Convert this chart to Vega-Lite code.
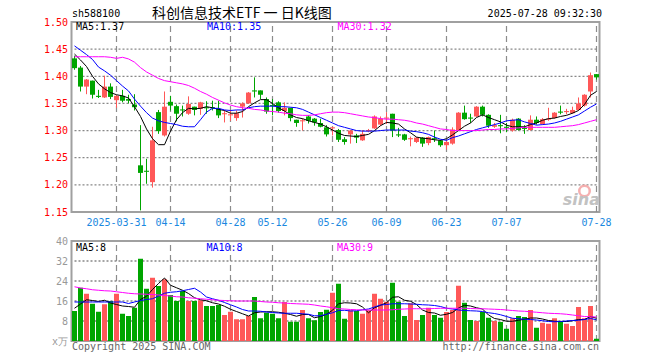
{
"$schema": "https://vega.github.io/schema/vega-lite/v6.json",
"background": "white",
"padding": {"left": 41.5, "top": 6, "right": 5, "bottom": 4},
"bounds": "flush",
"spacing": 29,
"config": {
  "view": {"stroke": "#a0a0a0", "strokeWidth": 2},
  "axis": {"domain": false, "ticks": false, "grid": false, "labelFont": "DejaVu Sans Mono", "labelFontSize": 10, "labelOverlap": false},
  "text": {"font": "DejaVu Sans Mono", "fontSize": 10}
},
"datasets": {
  "dates": [{"g":"2025-03-31"},{"g":"2025-04-14"},{"g":"2025-04-28"},{"g":"2025-05-12"},{"g":"2025-05-26"},{"g":"2025-06-09"},{"g":"2025-06-23"},{"g":"2025-07-07"},{"g":"2025-07-28"}],
  "pgrid": [{"g":1.2},{"g":1.25},{"g":1.3},{"g":1.35},{"g":1.4},{"g":1.45}],
  "vgrid": [{"g":8},{"g":16},{"g":24},{"g":32}]
},
"data": {"values": [
{"d":"2025-03-20","o":1.433,"h":1.438,"l":1.412,"c":1.415,"v":12.0,"m5":1.441,"m10":1.456,"m30":1.436,"v5":13.1,"v10":15.6,"v30":21.7},
{"d":"2025-03-21","o":1.416,"h":1.419,"l":1.372,"c":1.381,"v":21.3,"m5":1.430,"m10":1.448,"m30":1.436,"v5":14.8,"v10":15.6,"v30":21.2},
{"d":"2025-03-24","o":1.381,"h":1.395,"l":1.367,"c":1.394,"v":18.9,"m5":1.418,"m10":1.440,"m30":1.436,"v5":16.5,"v10":15.6,"v30":20.9},
{"d":"2025-03-25","o":1.392,"h":1.392,"l":1.359,"c":1.366,"v":14.9,"m5":1.400,"m10":1.431,"m30":1.436,"v5":16.2,"v10":15.6,"v30":20.5},
{"d":"2025-03-26","o":1.364,"h":1.375,"l":1.360,"c":1.362,"v":11.7,"m5":1.386,"m10":1.417,"m30":1.436,"v5":15.8,"v10":15.6,"v30":20.3},
{"d":"2025-03-27","o":1.361,"h":1.401,"l":1.360,"c":1.381,"v":14.7,"m5":1.377,"m10":1.410,"m30":1.436,"v5":16.3,"v10":15.6,"v30":20.1},
{"d":"2025-03-28","o":1.381,"h":1.387,"l":1.358,"c":1.362,"v":16.0,"m5":1.370,"m10":1.402,"m30":1.435,"v5":15.2,"v10":15.6,"v30":20.0},
{"d":"2025-03-31","o":1.356,"h":1.366,"l":1.342,"c":1.364,"v":18.9,"m5":1.366,"m10":1.392,"m30":1.433,"v5":14.6,"v10":15.6,"v30":19.7},
{"d":"2025-04-01","o":1.364,"h":1.375,"l":1.352,"c":1.355,"v":10.9,"m5":1.364,"m10":1.382,"m30":1.435,"v5":14.0,"v10":15.6,"v30":19.4},
{"d":"2025-04-02","o":1.358,"h":1.366,"l":1.350,"c":1.355,"v":10.0,"m5":1.360,"m10":1.373,"m30":1.432,"v5":13.8,"v10":15.0,"v30":19.1},
{"d":"2025-04-03","o":1.348,"h":1.367,"l":1.337,"c":1.343,"v":13.3,"m5":1.344,"m10":1.358,"m30":1.426,"v5":13.5,"v10":15.6,"v30":18.9},
{"d":"2025-04-07","o":1.236,"h":1.310,"l":1.153,"c":1.222,"v":32.9,"m5":1.326,"m10":1.345,"m30":1.416,"v5":16.6,"v10":16.2,"v30":18.8},
{"d":"2025-04-08","o":1.226,"h":1.248,"l":1.202,"c":1.224,"v":20.9,"m5":1.303,"m10":1.333,"m30":1.408,"v5":17.9,"v10":16.6,"v30":18.7},
{"d":"2025-04-09","o":1.205,"h":1.307,"l":1.195,"c":1.282,"v":25.3,"m5":1.285,"m10":1.323,"m30":1.402,"v5":20.6,"v10":16.9,"v30":18.6},
{"d":"2025-04-10","o":1.334,"h":1.338,"l":1.294,"c":1.299,"v":22.0,"m5":1.274,"m10":1.318,"m30":1.396,"v5":23.0,"v10":18.0,"v30":18.4},
{"d":"2025-04-11","o":1.291,"h":1.372,"l":1.289,"c":1.344,"v":24.7,"m5":1.274,"m10":1.315,"m30":1.392,"v5":25.2,"v10":19.1,"v30":18.2},
{"d":"2025-04-14","o":1.353,"h":1.364,"l":1.337,"c":1.346,"v":18.4,"m5":1.299,"m10":1.313,"m30":1.390,"v5":22.3,"v10":19.5,"v30":18.0},
{"d":"2025-04-15","o":1.345,"h":1.348,"l":1.317,"c":1.331,"v":16.0,"m5":1.320,"m10":1.311,"m30":1.388,"v5":21.3,"v10":19.7,"v30":17.7},
{"d":"2025-04-16","o":1.339,"h":1.346,"l":1.326,"c":1.337,"v":20.0,"m5":1.333,"m10":1.308,"m30":1.386,"v5":20.3,"v10":20.1,"v30":17.6},
{"d":"2025-04-17","o":1.331,"h":1.363,"l":1.329,"c":1.349,"v":16.0,"m5":1.341,"m10":1.307,"m30":1.383,"v5":19.0,"v10":20.6,"v30":17.3},
{"d":"2025-04-18","o":1.344,"h":1.344,"l":1.328,"c":1.338,"v":16.0,"m5":1.340,"m10":1.307,"m30":1.378,"v5":17.3,"v10":21.1,"v30":17.1},
{"d":"2025-04-21","o":1.340,"h":1.353,"l":1.329,"c":1.352,"v":16.3,"m5":1.341,"m10":1.320,"m30":1.372,"v5":16.5,"v10":19.6,"v30":16.9},
{"d":"2025-04-22","o":1.343,"h":1.354,"l":1.331,"c":1.341,"v":14.0,"m5":1.344,"m10":1.334,"m30":1.367,"v5":16.1,"v10":17.6,"v30":16.7},
{"d":"2025-04-23","o":1.343,"h":1.355,"l":1.337,"c":1.341,"v":14.0,"m5":1.342,"m10":1.341,"m30":1.361,"v5":15.3,"v10":16.9,"v30":16.5},
{"d":"2025-04-24","o":1.340,"h":1.355,"l":1.323,"c":1.328,"v":14.4,"m5":1.339,"m10":1.341,"m30":1.356,"v5":14.8,"v10":16.3,"v30":16.3},
{"d":"2025-04-25","o":1.330,"h":1.338,"l":1.315,"c":1.332,"v":10.4,"m5":1.337,"m10":1.338,"m30":1.351,"v5":13.9,"v10":15.4,"v30":16.2},
{"d":"2025-04-28","o":1.328,"h":1.338,"l":1.318,"c":1.330,"v":11.7,"m5":1.332,"m10":1.337,"m30":1.347,"v5":12.7,"v10":14.5,"v30":16.1},
{"d":"2025-04-29","o":1.323,"h":1.337,"l":1.318,"c":1.332,"v":8.7,"m5":1.332,"m10":1.338,"m30":1.344,"v5":11.8,"v10":13.6,"v30":16.0},
{"d":"2025-04-30","o":1.344,"h":1.352,"l":1.324,"c":1.350,"v":8.7,"m5":1.335,"m10":1.338,"m30":1.342,"v5":10.9,"v10":12.6,"v30":16.0},
{"d":"2025-05-06","o":1.350,"h":1.371,"l":1.349,"c":1.370,"v":10.0,"m5":1.344,"m10":1.342,"m30":1.341,"v5":10.0,"v10":12.0,"v30":16.0},
{"d":"2025-05-07","o":1.374,"h":1.398,"l":1.361,"c":1.372,"v":17.6,"m5":1.351,"m10":1.344,"m30":1.339,"v5":11.3,"v10":12.0,"v30":16.0},
{"d":"2025-05-08","o":1.374,"h":1.374,"l":1.358,"c":1.366,"v":9.1,"m5":1.357,"m10":1.345,"m30":1.338,"v5":11.6,"v10":11.9,"v30":15.8},
{"d":"2025-05-09","o":1.358,"h":1.361,"l":1.331,"c":1.335,"v":11.3,"m5":1.357,"m10":1.345,"m30":1.336,"v5":11.7,"v10":11.6,"v30":15.6},
{"d":"2025-05-12","o":1.347,"h":1.358,"l":1.328,"c":1.345,"v":10.9,"m5":1.350,"m10":1.345,"m30":1.335,"v5":11.7,"v10":11.4,"v30":15.5},
{"d":"2025-05-13","o":1.352,"h":1.354,"l":1.333,"c":1.336,"v":9.1,"m5":1.342,"m10":1.344,"m30":1.334,"v5":11.5,"v10":11.2,"v30":15.3},
{"d":"2025-05-14","o":1.336,"h":1.352,"l":1.328,"c":1.342,"v":15.6,"m5":1.336,"m10":1.344,"m30":1.332,"v5":11.1,"v10":11.1,"v30":15.2},
{"d":"2025-05-15","o":1.342,"h":1.342,"l":1.317,"c":1.323,"v":7.7,"m5":1.329,"m10":1.343,"m30":1.331,"v5":10.6,"v10":11.1,"v30":15.0},
{"d":"2025-05-16","o":1.320,"h":1.320,"l":1.307,"c":1.314,"v":7.7,"m5":1.324,"m10":1.342,"m30":1.329,"v5":9.9,"v10":11.1,"v30":14.9},
{"d":"2025-05-19","o":1.317,"h":1.322,"l":1.300,"c":1.319,"v":12.4,"m5":1.322,"m10":1.339,"m30":1.328,"v5":10.6,"v10":10.9,"v30":14.8},
{"d":"2025-05-20","o":1.326,"h":1.328,"l":1.313,"c":1.318,"v":9.1,"m5":1.318,"m10":1.334,"m30":1.328,"v5":10.6,"v10":10.7,"v30":14.7},
{"d":"2025-05-21","o":1.322,"h":1.323,"l":1.309,"c":1.315,"v":8.3,"m5":1.315,"m10":1.329,"m30":1.329,"v5":9.3,"v10":10.1,"v30":14.4},
{"d":"2025-05-22","o":1.314,"h":1.322,"l":1.306,"c":1.307,"v":11.6,"m5":1.312,"m10":1.324,"m30":1.331,"v5":9.8,"v10":10.1,"v30":14.0},
{"d":"2025-05-23","o":1.306,"h":1.310,"l":1.289,"c":1.293,"v":12.5,"m5":1.307,"m10":1.319,"m30":1.333,"v5":10.7,"v10":10.7,"v30":13.7},
{"d":"2025-05-26","o":1.304,"h":1.307,"l":1.291,"c":1.306,"v":19.3,"m5":1.301,"m10":1.314,"m30":1.334,"v5":12.3,"v10":11.3,"v30":13.3},
{"d":"2025-05-27","o":1.301,"h":1.303,"l":1.279,"c":1.283,"v":22.9,"m5":1.295,"m10":1.309,"m30":1.334,"v5":14.9,"v10":12.2,"v30":12.9},
{"d":"2025-05-28","o":1.284,"h":1.288,"l":1.274,"c":1.279,"v":8.9,"m5":1.291,"m10":1.306,"m30":1.333,"v5":15.3,"v10":12.3,"v30":12.8},
{"d":"2025-05-29","o":1.293,"h":1.301,"l":1.276,"c":1.300,"v":12.3,"m5":1.290,"m10":1.303,"m30":1.331,"v5":15.2,"v10":12.0,"v30":12.6},
{"d":"2025-05-30","o":1.291,"h":1.294,"l":1.277,"c":1.287,"v":12.0,"m5":1.289,"m10":1.300,"m30":1.329,"v5":14.9,"v10":12.1,"v30":12.5},
{"d":"2025-06-03","o":1.282,"h":1.301,"l":1.281,"c":1.294,"v":10.9,"m5":1.291,"m10":1.299,"m30":1.327,"v5":13.6,"v10":12.5,"v30":12.4},
{"d":"2025-06-04","o":1.299,"h":1.303,"l":1.297,"c":1.301,"v":12.3,"m5":1.293,"m10":1.299,"m30":1.325,"v5":11.3,"v10":12.8,"v30":12.4},
{"d":"2025-06-05","o":1.304,"h":1.328,"l":1.303,"c":1.326,"v":18.9,"m5":1.300,"m10":1.299,"m30":1.324,"v5":13.3,"v10":13.6,"v30":12.4},
{"d":"2025-06-06","o":1.311,"h":1.326,"l":1.309,"c":1.322,"v":16.9,"m5":1.309,"m10":1.300,"m30":1.322,"v5":14.3,"v10":14.4,"v30":12.4},
{"d":"2025-06-09","o":1.322,"h":1.334,"l":1.312,"c":1.324,"v":15.7,"m5":1.315,"m10":1.301,"m30":1.321,"v5":15.3,"v10":14.6,"v30":12.4},
{"d":"2025-06-10","o":1.331,"h":1.331,"l":1.288,"c":1.300,"v":23.3,"m5":1.314,"m10":1.301,"m30":1.321,"v5":17.5,"v10":14.9,"v30":12.5},
{"d":"2025-06-11","o":1.293,"h":1.305,"l":1.288,"c":1.291,"v":15.7,"m5":1.312,"m10":1.301,"m30":1.320,"v5":17.7,"v10":14.9,"v30":12.7},
{"d":"2025-06-12","o":1.293,"h":1.294,"l":1.281,"c":1.283,"v":10.0,"m5":1.303,"m10":1.301,"m30":1.319,"v5":16.3,"v10":14.9,"v30":12.8},
{"d":"2025-06-13","o":1.284,"h":1.289,"l":1.271,"c":1.286,"v":15.1,"m5":1.296,"m10":1.299,"m30":1.317,"v5":15.9,"v10":14.8,"v30":12.9},
{"d":"2025-06-16","o":1.279,"h":1.288,"l":1.277,"c":1.287,"v":8.4,"m5":1.288,"m10":1.298,"m30":1.314,"v5":14.6,"v10":14.7,"v30":12.9},
{"d":"2025-06-17","o":1.287,"h":1.288,"l":1.270,"c":1.276,"v":10.4,"m5":1.286,"m10":1.296,"m30":1.312,"v5":12.4,"v10":14.5,"v30":12.9},
{"d":"2025-06-18","o":1.277,"h":1.289,"l":1.273,"c":1.288,"v":13.3,"m5":1.285,"m10":1.293,"m30":1.309,"v5":11.4,"v10":14.4,"v30":12.9},
{"d":"2025-06-19","o":1.286,"h":1.300,"l":1.279,"c":1.284,"v":10.4,"m5":1.283,"m10":1.288,"m30":1.306,"v5":11.2,"v10":14.2,"v30":13.0},
{"d":"2025-06-20","o":1.282,"h":1.283,"l":1.270,"c":1.273,"v":9.3,"m5":1.282,"m10":1.284,"m30":1.303,"v5":10.3,"v10":13.8,"v30":13.1},
{"d":"2025-06-23","o":1.273,"h":1.282,"l":1.265,"c":1.279,"v":11.6,"m5":1.285,"m10":1.282,"m30":1.302,"v5":10.7,"v10":13.1,"v30":13.1},
{"d":"2025-06-24","o":1.276,"h":1.306,"l":1.274,"c":1.302,"v":12.4,"m5":1.292,"m10":1.287,"m30":1.300,"v5":11.4,"v10":12.8,"v30":13.1},
{"d":"2025-06-25","o":1.301,"h":1.334,"l":1.300,"c":1.333,"v":22.1,"m5":1.300,"m10":1.290,"m30":1.300,"v5":13.2,"v10":12.4,"v30":13.1},
{"d":"2025-06-26","o":1.333,"h":1.346,"l":1.320,"c":1.321,"v":15.3,"m5":1.308,"m10":1.294,"m30":1.300,"v5":14.3,"v10":12.2,"v30":13.1},
{"d":"2025-06-27","o":1.324,"h":1.331,"l":1.314,"c":1.322,"v":8.4,"m5":1.314,"m10":1.298,"m30":1.300,"v5":14.0,"v10":12.1,"v30":13.0},
{"d":"2025-06-30","o":1.326,"h":1.345,"l":1.325,"c":1.344,"v":8.0,"m5":1.324,"m10":1.302,"m30":1.300,"v5":13.3,"v10":12.0,"v30":12.9},
{"d":"2025-07-01","o":1.344,"h":1.346,"l":1.326,"c":1.329,"v":11.6,"m5":1.329,"m10":1.305,"m30":1.301,"v5":12.8,"v10":11.8,"v30":12.9},
{"d":"2025-07-02","o":1.329,"h":1.330,"l":1.305,"c":1.309,"v":9.3,"m5":1.324,"m10":1.308,"m30":1.302,"v5":10.4,"v10":11.3,"v30":12.8},
{"d":"2025-07-03","o":1.307,"h":1.314,"l":1.305,"c":1.310,"v":8.0,"m5":1.320,"m10":1.311,"m30":1.302,"v5":9.0,"v10":11.0,"v30":12.7},
{"d":"2025-07-04","o":1.310,"h":1.329,"l":1.295,"c":1.308,"v":7.6,"m5":1.316,"m10":1.314,"m30":1.303,"v5":8.6,"v10":10.5,"v30":12.6},
{"d":"2025-07-07","o":1.307,"h":1.314,"l":1.297,"c":1.305,"v":4.9,"m5":1.310,"m10":1.318,"m30":1.303,"v5":7.9,"v10":9.8,"v30":12.4},
{"d":"2025-07-08","o":1.300,"h":1.322,"l":1.298,"c":1.320,"v":9.1,"m5":1.307,"m10":1.319,"m30":1.304,"v5":7.9,"v10":9.1,"v30":12.2},
{"d":"2025-07-09","o":1.322,"h":1.323,"l":1.300,"c":1.301,"v":10.0,"m5":1.307,"m10":1.320,"m30":1.305,"v5":8.3,"v10":8.9,"v30":12.0},
{"d":"2025-07-10","o":1.305,"h":1.310,"l":1.294,"c":1.303,"v":9.6,"m5":1.307,"m10":1.316,"m30":1.306,"v5":8.7,"v10":8.7,"v30":11.9},
{"d":"2025-07-11","o":1.301,"h":1.328,"l":1.300,"c":1.320,"v":12.4,"m5":1.311,"m10":1.313,"m30":1.306,"v5":9.2,"v10":8.6,"v30":11.7},
{"d":"2025-07-14","o":1.320,"h":1.326,"l":1.311,"c":1.314,"v":5.3,"m5":1.314,"m10":1.310,"m30":1.306,"v5":9.2,"v10":8.4,"v30":11.5},
{"d":"2025-07-15","o":1.312,"h":1.323,"l":1.311,"c":1.321,"v":7.3,"m5":1.319,"m10":1.311,"m30":1.306,"v5":8.8,"v10":8.1,"v30":11.3},
{"d":"2025-07-16","o":1.320,"h":1.342,"l":1.318,"c":1.322,"v":6.9,"m5":1.322,"m10":1.312,"m30":1.306,"v5":8.2,"v10":7.8,"v30":11.1},
{"d":"2025-07-17","o":1.323,"h":1.334,"l":1.322,"c":1.333,"v":9.1,"m5":1.323,"m10":1.314,"m30":1.306,"v5":7.9,"v10":7.7,"v30":11.0},
{"d":"2025-07-18","o":1.335,"h":1.346,"l":1.330,"c":1.333,"v":7.7,"m5":1.326,"m10":1.317,"m30":1.307,"v5":7.8,"v10":7.8,"v30":10.9},
{"d":"2025-07-21","o":1.334,"h":1.340,"l":1.330,"c":1.336,"v":6.9,"m5":1.328,"m10":1.321,"m30":1.308,"v5":7.8,"v10":8.0,"v30":10.7},
{"d":"2025-07-22","o":1.332,"h":1.344,"l":1.331,"c":1.338,"v":6.0,"m5":1.332,"m10":1.325,"m30":1.309,"v5":8.1,"v10":8.2,"v30":10.4},
{"d":"2025-07-23","o":1.338,"h":1.361,"l":1.337,"c":1.350,"v":13.6,"m5":1.337,"m10":1.329,"m30":1.311,"v5":8.6,"v10":8.3,"v30":10.1},
{"d":"2025-07-24","o":1.346,"h":1.367,"l":1.344,"c":1.366,"v":9.1,"m5":1.348,"m10":1.336,"m30":1.314,"v5":8.6,"v10":8.6,"v30":9.8},
{"d":"2025-07-25","o":1.372,"h":1.407,"l":1.361,"c":1.402,"v":14.0,"m5":1.365,"m10":1.343,"m30":1.317,"v5":9.8,"v10":9.0,"v30":9.7},
{"d":"2025-07-28","o":1.404,"h":1.404,"l":1.394,"c":1.398,"v":0.9,"m5":1.372,"m10":1.349,"m30":1.320,"v5":9.1,"v10":8.5,"v30":9.6}
]},
"vconcat": [
{
  "width": 528,
  "height": 190,
  "encoding": {
    "x": {"field": "d", "type": "ordinal", "scale": {"paddingInner": 0, "paddingOuter": 0},
      "axis": {"title": null, "values": ["2025-03-31","2025-04-14","2025-04-28","2025-05-12","2025-05-26","2025-06-09","2025-06-23","2025-07-07","2025-07-28"],
        "labelExpr": "datum.value == '2025-03-31' ? datum.value : slice(datum.value, 5)",
        "labelColor": "#1a88e0", "labelAngle": 0, "labelPadding": 5, "labelOverlap": false, "grid": false}}
  },
  "layer": [
    {"data": {"name": "dates"}, "mark": {"type": "rule", "color": "#8c8c8c", "strokeWidth": 1.2, "strokeDash": [6, 4]},
     "encoding": {"x": {"field": "g", "type": "ordinal"}, "y": {"datum": 1.15, "type": "quantitative"}, "y2": {"datum": 1.5}}},
    {"data": {"name": "pgrid"}, "mark": {"type": "rule", "color": "#888888", "strokeWidth": 1.3, "strokeDash": [2, 2]},
     "encoding": {"x": {"datum": "2025-03-20", "type": "ordinal"}, "x2": {"datum": "2025-07-28"}, "y": {"field": "g", "type": "quantitative"}}},
    {"mark": {"type": "rule", "strokeWidth": 1},
     "encoding": {
       "y": {"field": "l", "type": "quantitative", "scale": {"domain": [1.15, 1.5], "zero": false, "nice": false},
         "axis": {"title": null, "values": [1.15, 1.2, 1.25, 1.3, 1.35, 1.4, 1.45, 1.5], "tickCount": 20, "format": ".2f", "labelColor": "#ff0000", "labelPadding": 4, "labelOverlap": false, "grid": false}},
       "y2": {"field": "h"},
       "color": {"condition": {"test": "datum.c >= datum.o", "value": "#ff5858"}, "value": "#00a500"}}},
    {"mark": {"type": "bar", "size": 5},
     "encoding": {
       "y": {"field": "o", "type": "quantitative"},
       "y2": {"field": "c"},
       "color": {"condition": {"test": "datum.c >= datum.o", "value": "#ff5858"}, "value": "#00a500"}}},
    {"mark": {"type": "line", "color": "#000000", "strokeWidth": 1}, "encoding": {"y": {"field": "m5", "type": "quantitative"}}},
    {"mark": {"type": "line", "color": "#0000ff", "strokeWidth": 1}, "encoding": {"y": {"field": "m10", "type": "quantitative"}}},
    {"mark": {"type": "line", "color": "#ff00ff", "strokeWidth": 1}, "encoding": {"y": {"field": "m30", "type": "quantitative"}}},
    {"data": {"values": [{}]}, "mark": {"type": "text", "align": "left", "baseline": "middle", "dx": 1.5, "color": "#000000"},
     "encoding": {"x": {"datum": "2025-03-20", "type": "ordinal"}, "y": {"datum": 1.4902, "type": "quantitative"}, "text": {"value": "MA5:1.37"}}},
    {"data": {"values": [{}]}, "mark": {"type": "text", "align": "left", "baseline": "middle", "dx": 0.5, "color": "#0000ff"},
     "encoding": {"x": {"datum": "2025-04-22", "type": "ordinal"}, "y": {"datum": 1.4902, "type": "quantitative"}, "text": {"value": "MA10:1.35"}}},
    {"data": {"values": [{}]}, "mark": {"type": "text", "align": "left", "baseline": "middle", "dx": -1, "color": "#ff00ff"},
     "encoding": {"x": {"datum": "2025-05-27", "type": "ordinal"}, "y": {"datum": 1.4902, "type": "quantitative"}, "text": {"value": "MA30:1.32"}}},
    {"data": {"values": [{}]}, "mark": {"type": "text", "align": "left", "baseline": "middle", "dx": -2.5, "color": "#000000"},
     "encoding": {"x": {"datum": "2025-03-20", "type": "ordinal"}, "y": {"datum": 1.5147, "type": "quantitative"}, "text": {"value": "sh588100"}}},
    {"data": {"values": [{}]}, "mark": {"type": "text", "align": "left", "baseline": "middle", "dx": -0.5, "color": "#000000", "font": "Noto Sans CJK SC", "fontSize": 14},
     "encoding": {"x": {"datum": "2025-04-09", "type": "ordinal"}, "y": {"datum": 1.5147, "type": "quantitative"}, "text": {"value": "科创信息技术ETF 一 日K线图"}}},
    {"data": {"values": [{}]}, "mark": {"type": "text", "align": "right", "baseline": "middle", "dx": 5.5, "color": "#000000"},
     "encoding": {"x": {"datum": "2025-07-28", "type": "ordinal"}, "y": {"datum": 1.5147, "type": "quantitative"}, "text": {"value": "2025-07-28 09:32:30"}}},
    {"data": {"values": [{}]}, "mark": {"type": "point", "filled": false, "shape": "circle", "size": 110, "stroke": "#f5a8a8", "strokeWidth": 2.5, "opacity": 0.9},
     "encoding": {"x": {"datum": "2025-07-24", "type": "ordinal"}, "y": {"datum": 1.1887, "type": "quantitative"}}},
    {"data": {"values": [{}]}, "mark": {"type": "text", "align": "right", "baseline": "middle", "dx": 3.5, "color": "#c2c2c2", "font": "DejaVu Sans", "fontSize": 16, "fontWeight": "bold", "fontStyle": "italic"},
     "encoding": {"x": {"datum": "2025-07-28", "type": "ordinal"}, "y": {"datum": 1.172, "type": "quantitative"}, "text": {"value": "sina"}}}
  ]
},
{
  "width": 528,
  "height": 100,
  "encoding": {
    "x": {"field": "d", "type": "ordinal", "scale": {"paddingInner": 0, "paddingOuter": 0},
      "axis": {"title": null, "labels": false, "grid": false}}
  },
  "layer": [
    {"data": {"name": "dates"}, "mark": {"type": "rule", "color": "#8c8c8c", "strokeWidth": 1.2, "strokeDash": [6, 4]},
     "encoding": {"x": {"field": "g", "type": "ordinal"}, "y": {"datum": 0, "type": "quantitative"}, "y2": {"datum": 40}}},
    {"data": {"name": "vgrid"}, "mark": {"type": "rule", "color": "#888888", "strokeWidth": 1.3, "strokeDash": [2, 2]},
     "encoding": {"x": {"datum": "2025-03-20", "type": "ordinal"}, "x2": {"datum": "2025-07-28"}, "y": {"field": "g", "type": "quantitative"}}},
    {"mark": {"type": "bar", "size": 5},
     "encoding": {
       "y": {"field": "v", "type": "quantitative", "scale": {"domain": [0, 40], "nice": false},
         "axis": {"title": null, "values": [0, 8, 16, 24, 32, 40], "tickCount": 20, "labelExpr": "datum.value == 0 ? 'x万' : datum.label", "labelColor": "#999999", "labelPadding": 4, "labelOverlap": false, "grid": false}},
       "color": {"condition": {"test": "datum.c >= datum.o", "value": "#ff5858"}, "value": "#00a500"}}},
    {"mark": {"type": "line", "color": "#000000", "strokeWidth": 1}, "encoding": {"y": {"field": "v5", "type": "quantitative"}}},
    {"mark": {"type": "line", "color": "#0000ff", "strokeWidth": 1}, "encoding": {"y": {"field": "v10", "type": "quantitative"}}},
    {"mark": {"type": "line", "color": "#ff00ff", "strokeWidth": 1}, "encoding": {"y": {"field": "v30", "type": "quantitative"}}},
    {"data": {"values": [{}]}, "mark": {"type": "text", "align": "left", "baseline": "middle", "dx": 1.5, "color": "#000000"},
     "encoding": {"x": {"datum": "2025-03-20", "type": "ordinal"}, "y": {"datum": 37.3, "type": "quantitative"}, "text": {"value": "MA5:8"}}},
    {"data": {"values": [{}]}, "mark": {"type": "text", "align": "left", "baseline": "middle", "dx": 0, "color": "#0000ff"},
     "encoding": {"x": {"datum": "2025-04-22", "type": "ordinal"}, "y": {"datum": 37.3, "type": "quantitative"}, "text": {"value": "MA10:8"}}},
    {"data": {"values": [{}]}, "mark": {"type": "text", "align": "left", "baseline": "middle", "dx": -1.5, "color": "#ff00ff"},
     "encoding": {"x": {"datum": "2025-05-27", "type": "ordinal"}, "y": {"datum": 37.3, "type": "quantitative"}, "text": {"value": "MA30:9"}}},
    {"data": {"values": [{}]}, "mark": {"type": "text", "align": "left", "baseline": "middle", "dx": -2.5, "color": "#666666"},
     "encoding": {"x": {"datum": "2025-03-20", "type": "ordinal"}, "y": {"datum": -2.3, "type": "quantitative"}, "text": {"value": "Copyright 2025 SINA.COM"}}},
    {"data": {"values": [{}]}, "mark": {"type": "text", "align": "right", "baseline": "middle", "dx": 2.5, "color": "#666666"},
     "encoding": {"x": {"datum": "2025-07-28", "type": "ordinal"}, "y": {"datum": -2.3, "type": "quantitative"}, "text": {"value": "http://finance.sina.com.cn"}}}
  ]
}
]
}
